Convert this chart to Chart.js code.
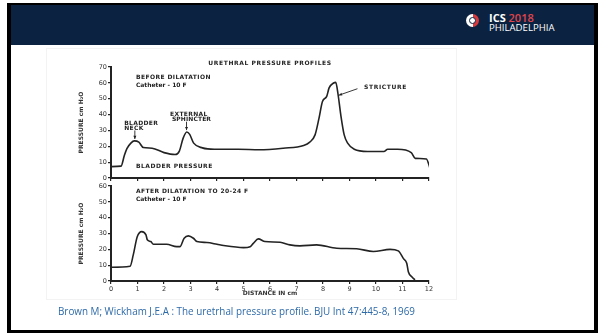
<!DOCTYPE html>
<html>
<head>
<meta charset="utf-8">
<script src="https://cdn.jsdelivr.net/npm/chart.js@4.4.1/dist/chart.umd.min.js"></script>
<style>
  html, body { margin: 0; padding: 0; width: 603px; height: 333px; overflow: hidden; background: #fff; }
  #frame { position: absolute; left: 7px; top: 3px; width: 591px; height: 330px; box-sizing: border-box;
    border-style: solid; border-color: #000; border-width: 2px 4px 3px 4px; }
  #header { position: absolute; left: 11px; top: 5px; width: 583px; height: 40px; background: #0b2340; }
  #icon { position: absolute; left: 466px; top: 14px; width: 13px; height: 13px; border-radius: 50%;
    background: linear-gradient(90deg, #fff 50%, #d8393d 50%); }
  #icon div { position: absolute; left: 3px; top: 3px; width: 5px; height: 5px; border-radius: 50%;
    border: 1.5px solid #0b2340; background: #fff; }
  #ics { position: absolute; left: 489px; top: 10px; font: 700 11px "Open Sans", sans-serif; color: #fff; white-space: nowrap; }
  #ics span { color: #e2434b; font-weight: 600; }
  #phl { position: absolute; left: 489px; top: 21px; font: 400 9.6px "Open Sans", sans-serif; color: #fff; white-space: nowrap; }
  #fig { position: absolute; left: 46px; top: 48px; width: 411px; height: 252px; box-sizing: border-box;
    border: 1px solid #f3f3f3; background: #fff; }
  canvas { position: absolute; }
  #c1 { left: 46px; top: 50px; }
  #c2 { left: 46px; top: 180px; }
  #cite { position: absolute; left: 58px; top: 304px; font: 400 10px "Open Sans", sans-serif; color: #2d6aa8;
    white-space: nowrap; transform-origin: left center; }
</style>
</head>
<body>
<div id="frame"></div>
<div id="header"></div>
<div id="icon"><div></div></div>
<div id="ics">ICS <span>2018</span></div>
<div id="phl">PHILADELPHIA</div>
<div id="fig"></div>
<canvas id="c1" width="412" height="134"></canvas>
<canvas id="c2" width="412" height="120"></canvas>
<div id="cite">Brown M; Wickham J.E.A : The uretrhal pressure profile. BJU Int 47:445-8, 1969</div>
<script>
// ---------- Data ----------
const distTicks = [0, 1, 2, 3, 4, 5, 6, 7, 8, 9, 10, 11, 12];

// before dilatation (distance cm, pressure cm H2O)
const beforeX = [0, 0.38, 0.5, 0.6, 0.75, 0.88, 1.05, 1.22, 1.55, 2.0, 2.42, 2.58, 2.72, 2.86, 2.97, 3.12, 3.45, 3.9, 4.8, 5.6, 6.5, 7.27, 7.5, 7.7, 7.85, 7.98, 8.14, 8.23, 8.4, 8.48, 8.57, 8.67, 8.8, 8.93, 9.18, 9.68, 10.3, 10.44, 10.82, 11.33, 11.48, 11.9, 12.05];
const beforeY = [7.2, 7.5, 14, 18.5, 22, 23.4, 22.6, 19.2, 18.8, 16, 14.8, 17, 25, 29, 27.5, 22, 19, 18.1, 18.1, 17.8, 18.8, 20.5, 22.6, 27.2, 37.8, 48.3, 51.5, 56.8, 59.9, 60.3, 52.5, 39.9, 27.2, 22, 18.1, 16.7, 16.7, 18.1, 18.1, 16, 12.4, 12, 5.5];

// after dilatation to 20-24 F
const afterX = [0, 0.72, 0.84, 0.99, 1.16, 1.32, 1.37, 1.5, 1.6, 2.1, 2.48, 2.6, 2.76, 2.92, 3.11, 3.24, 3.62, 4.0, 4.25, 5.0, 5.25, 5.37, 5.56, 5.81, 6.38, 6.75, 7.13, 7.76, 8.52, 9.27, 9.9, 10.53, 10.84, 11.03, 11.16, 11.22, 11.35, 11.47];
const afterY = [8.7, 9.3, 16.5, 28, 31.2, 29.1, 26, 24.9, 23.2, 23.2, 21.7, 21.7, 27, 28.5, 27, 24.9, 24.3, 23.2, 22.4, 21.1, 21.7, 23.8, 26.6, 24.9, 24.5, 22.8, 22.2, 22.8, 20.7, 20.4, 18.6, 20, 19, 14.3, 11.2, 5.9, 2.7, 0.7];

// ---------- Annotations (in data units) ----------
const capsFont = 'bold 6px "DejaVu Sans"';
const topTexts = [
  { text: "URETHRAL PRESSURE PROFILES", x: 6.0, y: 72.3, align: "center", spacing: "0.6px" },
  { text: "BEFORE DILATATION", x: 0.94, y: 63.5, spacing: "0.4px" },
  { text: "Catheter - 10 F", x: 0.94, y: 58.5, spacing: "0px" },
  { text: "BLADDER", x: 0.5, y: 34.6, spacing: "0.3px" },
  { text: "NECK", x: 0.5, y: 31, spacing: "0.3px" },
  { text: "EXTERNAL", x: 2.23, y: 39.9, spacing: "0.3px" },
  { text: "SPHINCTER", x: 2.3, y: 36.7, spacing: "0.1px" },
  { text: "STRICTURE", x: 9.55, y: 56.8, spacing: "0.6px" },
  { text: "BLADDER PRESSURE", x: 0.94, y: 7.2, spacing: "0.5px" }
];
const topArrows = [[0.9, 30, 0.9, 24.6], [2.85, 35.5, 2.85, 30.2], [9.3, 56.3, 8.6, 52.2]];
const bottomTexts = [
  { text: "AFTER DILATATION TO 20-24 F", x: 0.94, y: 56.5, spacing: "0.4px" },
  { text: "Catheter - 10 F", x: 0.94, y: 51.3, spacing: "0px" }
];

const ink = "#232323";

const notesPlugin = {
  id: "notes",
  afterDatasetsDraw(chart, args, opts) {
    const { ctx } = chart;
    const x = chart.scales.x, y = chart.scales.y;
    ctx.save();
    ctx.fillStyle = ink;
    ctx.strokeStyle = ink;
    ctx.textBaseline = "middle";
    (opts.texts || []).forEach(t => {
      ctx.font = capsFont;
      ctx.letterSpacing = t.spacing || "0px";
      ctx.textAlign = t.align || "left";
      ctx.fillText(t.text, x.getPixelForValue(t.x), y.getPixelForValue(t.y));
    });
    ctx.lineWidth = 0.9;
    (opts.arrows || []).forEach(a => {
      const x1 = x.getPixelForValue(a[0]), y1 = y.getPixelForValue(a[1]);
      const x2 = x.getPixelForValue(a[2]), y2 = y.getPixelForValue(a[3]);
      ctx.beginPath(); ctx.moveTo(x1, y1); ctx.lineTo(x2, y2); ctx.stroke();
      const ang = Math.atan2(y2 - y1, x2 - x1);
      ctx.beginPath();
      ctx.moveTo(x2, y2);
      ctx.lineTo(x2 - 3.5 * Math.cos(ang - 0.45), y2 - 3.5 * Math.sin(ang - 0.45));
      ctx.lineTo(x2 - 3.5 * Math.cos(ang + 0.45), y2 - 3.5 * Math.sin(ang + 0.45));
      ctx.closePath(); ctx.fill();
    });
    ctx.restore();
  }
};

function points(xs, ys) {
  return xs.map((v, i) => ({ x: v, y: ys[i] }));
}

function makeChart(id, xs, ys, yMax, showX, texts, arrows) {
  return new Chart(document.getElementById(id), {
    type: "line",
    data: {
      datasets: [{
        data: points(xs, ys),
        borderColor: ink,
        borderWidth: 1.6,
        pointRadius: 0,
        cubicInterpolationMode: "monotone",
        fill: false
      }]
    },
    options: {
      responsive: false,
      animation: false,
      events: [],
      layout: { autoPadding: false, padding: showX ? { left: 32, right: 29, top: 6, bottom: 0 } : { left: 32, right: 29, top: 17, bottom: 0 } },
      plugins: { legend: { display: false }, tooltip: { enabled: false }, notes: { texts, arrows } },
      scales: {
        x: {
          type: "linear", min: 0, max: 12,
          afterBuildTicks: s => { s.ticks = distTicks.map(v => ({ value: v })); },
          afterFit: s => { s.height = showX ? 19 : 6; },
          border: { display: true, color: ink, width: 2 },
          grid: { drawOnChartArea: false, drawTicks: true, tickLength: 3, color: ink, lineWidth: 1.2 },
          ticks: { display: showX, padding: 1, color: "#333", font: { family: "DejaVu Sans", size: 6.5 } },
          title: { display: showX, text: "DISTANCE IN cm", color: "#333", padding: { top: 0, bottom: 3 },
            font: { family: "DejaVu Sans", size: 6, weight: "bold" } }
        },
        y: {
          min: 0, max: yMax,
          ticks: { stepSize: 10, padding: 1, color: "#333", font: { family: "DejaVu Sans", size: 6.5 } },
          afterFit: s => { s.width = 33; },
          border: { display: true, color: ink, width: 2 },
          grid: { drawOnChartArea: false, drawTicks: true, tickLength: 3, color: ink, lineWidth: 1.2 },
          title: { display: true, text: "PRESSURE cm H\u2082O", color: "#333", padding: 0,
            font: { family: "DejaVu Sans", size: 6, weight: "bold" } }
        }
      }
    },
    plugins: [notesPlugin]
  });
}

makeChart("c1", beforeX, beforeY, 70, false, topTexts, topArrows);
makeChart("c2", afterX, afterY, 60, true, bottomTexts, []);

// fit citation width to the slide
const cite = document.getElementById("cite");
const w = cite.getBoundingClientRect().width;
cite.style.transform = `scaleX(${357 / w})`;
</script>
</body>
</html>
